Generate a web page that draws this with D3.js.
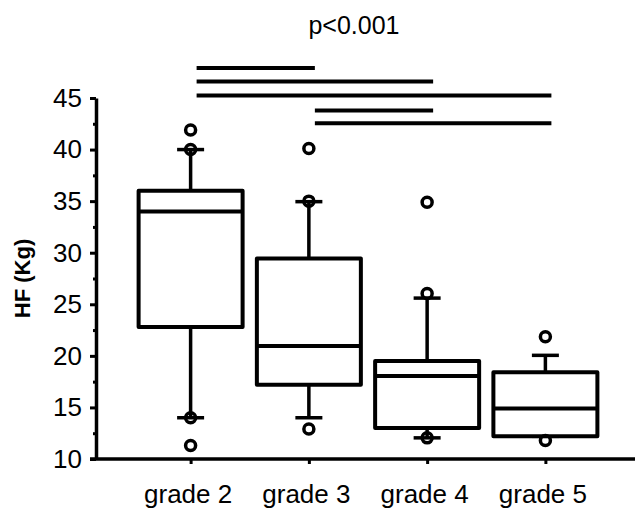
<!DOCTYPE html>
<html>
<head>
<meta charset="utf-8">
<script src="https://cdn.jsdelivr.net/npm/d3@7"></script>
<style>
  body { margin: 0; background: #fff; }
  text { font-family: "Liberation Sans", Arial, sans-serif; fill: #000; }
</style>
</head>
<body>
<div id="chart"></div>
<script>
// data
const grades = ["grade 2", "grade 3", "grade 4", "grade 5"];
const q1 = [22.8, 17.2, 13.0, 12.2];
const medians = [34.0, 20.95, 18.05, 14.9];
const q3 = [36.0, 29.45, 19.5, 18.4];
const whiskLow = [14.0, 14.0, 12.05, 12.2];
const whiskHigh = [40.0, 34.95, 25.6, 20.05];
const outliers = [[41.9, 40.0, 14.0, 11.3], [40.1, 35.0, 12.9], [34.9, 26.05, 12.05], [21.85, 11.8]];
const yTicks = [10, 15, 20, 25, 30, 35, 40, 45];
const yMinorTicks = [12.5, 17.5, 22.5, 27.5, 32.5, 37.5, 42.5];
// significance bars: [from, to, level]
const sigFrom = [0, 0, 0, 1, 1];
const sigTo = [1, 2, 3, 2, 3];
const sigLevel = [47.9, 46.6, 45.25, 43.8, 42.55];
const title = "p<0.001";

const W = 635, H = 512;
const svg = d3.select("#chart").append("svg")
    .attr("width", W)
    .attr("height", H);

const y = d3.scaleLinear().domain([10, 45]).range([459, 98]);
const x = d3.scalePoint().domain(grades).range([96, 640]).padding(0.8);

const boxW = 104, capW = 27;

// x axis
const xAxis = svg.append("g")
    .attr("transform", `translate(0,${y(10)})`)
    .call(d3.axisBottom(x).tickSize(5).tickSizeOuter(0));
xAxis.select(".domain").attr("stroke-width", 3.5).attr("d", `M90,0H640`);
xAxis.selectAll(".tick line").attr("stroke-width", 3);
xAxis.selectAll(".tick text")
    .attr("y", 44).attr("dy", null).attr("x", -3)
    .style("font-size", "26px");

// y axis, minor ticks first
svg.append("g")
    .attr("transform", "translate(96,0)")
    .call(d3.axisLeft(y).tickValues(yMinorTicks).tickSize(3).tickFormat(""))
    .call(g => g.select(".domain").remove())
    .selectAll(".tick line").attr("stroke-width", 3);

const yAxis = svg.append("g")
    .attr("transform", "translate(96,0)")
    .call(d3.axisLeft(y).tickValues(yTicks).tickSize(6).tickSizeOuter(0).tickPadding(8));
yAxis.select(".domain").attr("stroke-width", 3.5);
yAxis.selectAll(".tick line").attr("stroke-width", 3);
yAxis.selectAll(".tick text").style("font-size", "26px");

svg.append("text")
    .attr("transform", `translate(30,${(y(10) + y(45)) / 2}) rotate(-90)`)
    .attr("text-anchor", "middle")
    .style("font-size", "22px")
    .style("font-weight", "bold")
    .text("HF (Kg)");

svg.append("text")
    .attr("x", 354)
    .attr("y", 34)
    .attr("text-anchor", "middle")
    .style("font-size", "25px")
    .text(title);

// boxes
const groups = svg.selectAll("g.box")
    .data(grades)
    .enter().append("g")
    .attr("class", "box")
    .attr("transform", d => `translate(${x(d)},0)`);

groups.append("line")
    .attr("y1", (d, i) => y(whiskHigh[i]))
    .attr("y2", (d, i) => y(q3[i]))
    .attr("stroke", "#000").attr("stroke-width", 3.5);
groups.append("line")
    .attr("y1", (d, i) => y(whiskLow[i]))
    .attr("y2", (d, i) => y(q1[i]))
    .attr("stroke", "#000").attr("stroke-width", 3.5);
groups.append("line")
    .attr("x1", -capW / 2).attr("x2", capW / 2)
    .attr("y1", (d, i) => y(whiskHigh[i])).attr("y2", (d, i) => y(whiskHigh[i]))
    .attr("stroke", "#000").attr("stroke-width", 3.5);
groups.append("line")
    .attr("x1", -capW / 2).attr("x2", capW / 2)
    .attr("y1", (d, i) => y(whiskLow[i])).attr("y2", (d, i) => y(whiskLow[i]))
    .attr("stroke", "#000").attr("stroke-width", 3.5);

groups.append("rect")
    .attr("x", -boxW / 2)
    .attr("width", boxW)
    .attr("y", (d, i) => y(q3[i]))
    .attr("height", (d, i) => y(q1[i]) - y(q3[i]))
    .attr("fill", "#fff")
    .attr("stroke", "#000")
    .attr("stroke-width", 4)
    .attr("stroke-linejoin", "round");

groups.append("line")
    .attr("x1", -boxW / 2).attr("x2", boxW / 2)
    .attr("y1", (d, i) => y(medians[i])).attr("y2", (d, i) => y(medians[i]))
    .attr("stroke", "#000").attr("stroke-width", 4);

groups.selectAll("circle")
    .data((d, i) => outliers[i])
    .enter().append("circle")
    .attr("cx", 0)
    .attr("cy", d => y(d))
    .attr("r", 5)
    .attr("fill", "none")
    .attr("stroke", "#000")
    .attr("stroke-width", 3.5);

// significance bars
svg.selectAll("line.sig")
    .data(sigLevel)
    .enter().append("line")
    .attr("class", "sig")
    .attr("x1", (d, i) => x(grades[sigFrom[i]]) + 6)
    .attr("x2", (d, i) => x(grades[sigTo[i]]) + 6)
    .attr("y1", d => y(d))
    .attr("y2", d => y(d))
    .attr("stroke", "#000")
    .attr("stroke-width", 4);
</script>
</body>
</html>
